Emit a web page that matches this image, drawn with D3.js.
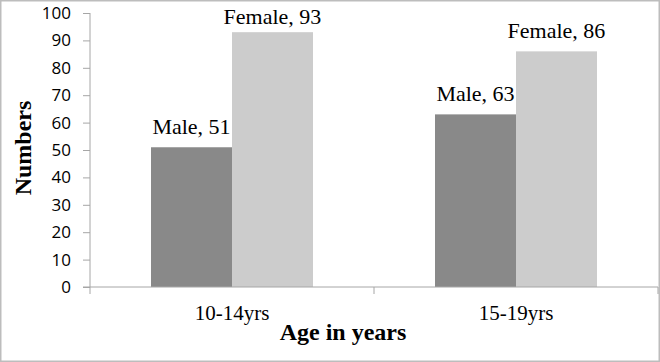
<!DOCTYPE html>
<html>
<head>
<meta charset="utf-8">
<script src="https://cdn.jsdelivr.net/npm/d3@7"></script>
<style>
  body { margin: 0; background: #fff; }
  svg { display: block; }
</style>
</head>
<body>
<svg id="chart" width="660" height="362"></svg>
<script>
var categories = ["10-14yrs", "15-19yrs"],
    seriesNames = ["Male", "Female"],
    maleValues = [51, 63],
    femaleValues = [93, 86],
    yTicks = [0, 10, 20, 30, 40, 50, 60, 70, 80, 90, 100];

var colors = {Male: "#898989", Female: "#cccccc"};

var svg = d3.select("#chart"),
    width = +svg.attr("width"),
    height = +svg.attr("height");

var rows = categories.map(function(c, i) {
  return {cat: c, values: [
    {name: "Male", value: maleValues[i]},
    {name: "Female", value: femaleValues[i]}
  ]};
});

var x0 = d3.scaleBand().domain(categories).range([90, 658]);
// two bars of ~81px in the middle of each 284px band
var x1 = d3.scaleBand().domain(seriesNames).range([61, x0.bandwidth() - 61]);

var y = d3.scaleLinear().domain([0, 100]).range([287, 13]);

// outer frame
svg.append("rect")
    .attr("x", 0.75).attr("y", 0.75)
    .attr("width", width - 1.5).attr("height", height - 1.5)
    .attr("fill", "#fff").attr("stroke", "#bdbdbd").attr("stroke-width", 1.5);

// bars
var groups = svg.append("g").selectAll("g")
  .data(rows)
  .enter().append("g")
    .attr("transform", function(d) { return "translate(" + x0(d.cat) + ",0)"; });

groups.selectAll("rect")
  .data(function(d) { return d.values; })
  .enter().append("rect")
    .attr("x", function(d) { return x1(d.name); })
    .attr("y", function(d) { return y(d.value); })
    .attr("width", x1.bandwidth())
    .attr("height", function(d) { return y(0) - y(d.value); })
    .attr("fill", function(d) { return colors[d.name]; });

// data labels
groups.selectAll("text")
  .data(function(d) { return d.values; })
  .enter().append("text")
    .attr("x", function(d) { return x1(d.name) + x1.bandwidth() / 2; })
    .attr("y", function(d) { return Math.max(24, y(d.value) - 13); })
    .attr("text-anchor", "middle")
    .attr("font-family", "'Liberation Serif', 'Times New Roman', serif")
    .attr("font-size", 22)
    .attr("fill", "#000")
    .text(function(d) { return d.name + ", " + d.value; });

// y axis
var yAxis = svg.append("g")
    .attr("transform", "translate(90,0)")
    .call(d3.axisLeft(y).tickValues(yTicks).tickSize(7).tickPadding(12));
yAxis.selectAll("path, line").attr("stroke", "#a6a6a6");
yAxis.select(".domain").attr("d", "M0,13V287");
yAxis.selectAll("text")
    .attr("font-family", "'Open Sans', 'Liberation Sans', sans-serif")
    .attr("font-size", 17)
    .attr("fill", "#000");

// x axis
var xAxis = svg.append("g")
    .attr("transform", "translate(0,287)")
    .call(d3.axisBottom(x0).tickSize(0).tickPadding(33));
xAxis.select(".domain").attr("stroke", "#a6a6a6").attr("d", "M83,0H658");
xAxis.selectAll("text")
    .attr("font-family", "'Liberation Serif', 'Times New Roman', serif")
    .attr("font-size", 21)
    .attr("fill", "#000")
    .attr("dy", 0);

// category separator ticks
svg.append("g").selectAll("line")
  .data(categories.concat(["end"]))
  .enter().append("line")
    .attr("x1", function(d, i) { return 90 + i * x0.bandwidth(); })
    .attr("x2", function(d, i) { return 90 + i * x0.bandwidth(); })
    .attr("y1", 287).attr("y2", 294)
    .attr("stroke", "#a6a6a6");

// axis titles
svg.append("text")
    .attr("transform", "translate(31,148) rotate(-90)")
    .attr("text-anchor", "middle")
    .attr("font-family", "'Liberation Serif', 'Times New Roman', serif")
    .attr("font-weight", "bold")
    .attr("font-size", 24)
    .text("Numbers");

svg.append("text")
    .attr("x", 343).attr("y", 340)
    .attr("text-anchor", "middle")
    .attr("font-family", "'Liberation Serif', 'Times New Roman', serif")
    .attr("font-weight", "bold")
    .attr("font-size", 24)
    .text("Age in years");
</script>
</body>
</html>
